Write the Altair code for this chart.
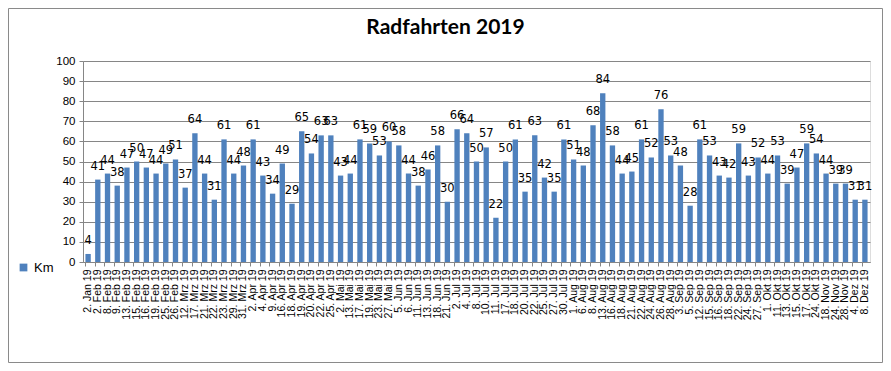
import altair as alt
import pandas as pd

dates = [
    "2. Jan 19", "2. Feb 19", "8. Feb 19", "9. Feb 19", "13. Feb 19", "15. Feb 19",
    "16. Feb 19", "19. Feb 19", "25. Feb 19", "26. Feb 19", "12. Mrz 19", "17. Mrz 19",
    "21. Mrz 19", "22. Mrz 19", "23. Mrz 19", "29. Mrz 19", "31. Mrz 19", "2. Apr 19",
    "4. Apr 19", "9. Apr 19", "16. Apr 19", "18. Apr 19", "19. Apr 19", "20. Apr 19",
    "22. Apr 19", "25. Apr 19", "2. Mai 19", "13. Mai 19", "17. Mai 19", "19. Mai 19",
    "23. Mai 19", "27. Mai 19", "5. Jun 19", "6. Jun 19", "11. Jun 19", "13. Jun 19",
    "18. Jun 19", "21. Jun 19", "2. Jul 19", "4. Jul 19", "8. Jul 19", "10. Jul 19",
    "11. Jul 19", "17. Jul 19", "18. Jul 19", "20. Jul 19", "22. Jul 19", "25. Jul 19",
    "27. Jul 19", "30. Jul 19", "1. Aug 19", "6. Aug 19", "8. Aug 19", "13. Aug 19",
    "16. Aug 19", "18. Aug 19", "21. Aug 19", "22. Aug 19", "24. Aug 19", "26. Aug 19",
    "28. Aug 19", "3. Sep 19", "5. Sep 19", "12. Sep 19", "15. Sep 19", "16. Sep 19",
    "18. Sep 19", "22. Sep 19", "24. Sep 19", "27. Sep 19", "1. Okt 19", "11. Okt 19",
    "13. Okt 19", "15. Okt 19", "17. Okt 19", "24. Okt 19", "18. Nov 19", "24. Nov 19",
    "28. Nov 19", "4. Dez 19", "8. Dez 19",
]

km = [
    4, 41, 44, 38, 47, 50, 47, 44, 49, 51, 37, 64, 44, 31, 61, 44, 48, 61, 43, 34,
    49, 29, 65, 54, 63, 63, 43, 44, 61, 59, 53, 60, 58, 44, 38, 46, 58, 30, 66, 64,
    50, 57, 22, 50, 61, 35, 63, 42, 35, 61, 51, 48, 68, 84, 58, 44, 45, 61, 52, 76,
    53, 48, 28, 61, 53, 43, 42, 59, 43, 52, 44, 53, 39, 47, 59, 54, 44, 39, 39, 31,
    31,
]

y_ticks = [0, 10, 20, 30, 40, 50, 60, 70, 80, 90, 100]

series = ["Km"] * len(km)

df = pd.DataFrame({"Datum": dates, "Km": km, "Serie": series})

GRID = "#868686"

x_enc = alt.X(
    "Datum:N",
    sort=None,
    scale=alt.Scale(paddingInner=0.45, paddingOuter=0.25),
    axis=alt.Axis(
        title=None,
        labelAngle=-90,
        labelFontSize=10.5,
        labelFont="Liberation Sans",
        labelColor="#000000",
        labelOverlap=False,
        labelPadding=3,
        domainColor=GRID,
        tickColor=GRID,
        tickSize=4,
        grid=False,
        bandPosition=0,
    ),
)

y_enc = alt.Y(
    "Km:Q",
    scale=alt.Scale(domain=[0, 100], nice=False),
    axis=alt.Axis(
        title=None,
        values=y_ticks,
        labelOverlap=False,
        labelFontSize=11.5,
        labelFont="Liberation Sans",
        labelColor="#000000",
        labelPadding=4,
        domainColor=GRID,
        tickColor=GRID,
        tickSize=4,
        gridColor=GRID,
        gridWidth=1,
    ),
)

base = alt.Chart(df).encode(x=x_enc, y=y_enc)

bars = base.mark_bar(color="#4F81BD").encode(
    color=alt.Color(
        "Serie:N",
        scale=alt.Scale(range=["#4F81BD"]),
        legend=alt.Legend(
            title=None,
            orient="none",
            legendX=-66,
            legendY=200,
            symbolType="square",
            symbolSize=60,
            symbolStrokeWidth=0,
            labelFontSize=13,
            labelFont="Liberation Sans",
            labelColor="#000000",
        ),
    ),
)

labels = base.mark_text(
    dy=-13, fontSize=11.5, font="DejaVu Sans", color="#000000"
).encode(text=alt.Text("Km:Q"))

frame = alt.Chart(pd.DataFrame({"f": [0]})).mark_rect(
    fill=None, stroke="#8A8A8A", strokeWidth=1
).encode(
    x=alt.value(-74.5),
    x2=alt.value(799.5),
    y=alt.value(-52.5),
    y2=alt.value(301.5),
)

chart = (
    alt.layer(frame, bars, labels)
    .properties(
        width=787,
        height=201,
        title=alt.TitleParams(
            "Radfahrten 2019",
            fontSize=21,
            font="Lato",
            fontWeight="bold",
            color="#000000",
            anchor="middle",
            dx=-31,
            offset=-30,
        ),
        autosize=alt.AutoSizeParams(type="none"),
        padding={"left": 75, "top": 53, "right": 13, "bottom": 101},
    )
    .configure_view(stroke=None)
    .configure(background="#ffffff")
)

chart.save("out.html", embed_options={"renderer": "svg", "actions": False})
